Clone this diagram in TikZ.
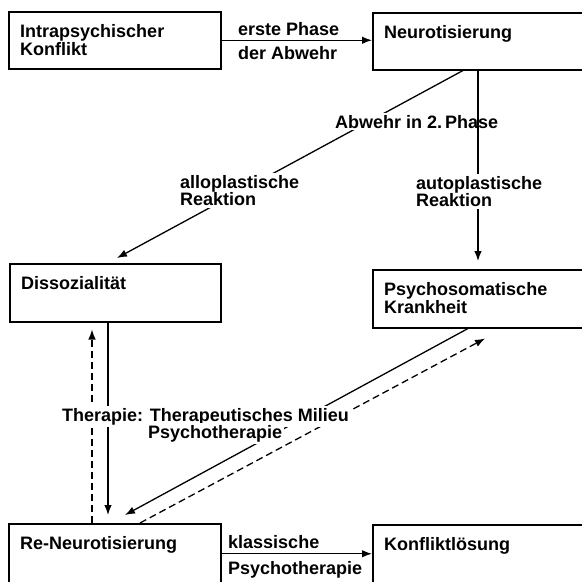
\documentclass[tikz,border=0pt]{standalone}
\usepackage{fontspec}
\setmainfont{Liberation Sans}
\usepackage{tikz}
\usetikzlibrary{arrows.meta,positioning,calc}

\begin{document}
\begin{tikzpicture}[x=1pt, y=-1pt, >={Latex[length=10pt,width=7.5pt]},
  every node/.style={font=\bfseries\fontsize{18}{17.5}\selectfont},
  box/.style={draw, line width=1.5pt, anchor=north west, inner sep=0pt},
  boxtext/.style={anchor=north west, inner sep=0pt, align=left},
  lbl/.style={anchor=north west, inner sep=2pt, fill=white, align=left},
  conn/.style={line width=1.3pt},
  back/.style={line width=1.3pt, dash pattern=on 7pt off 4pt}]
\useasboundingbox (0,0) rectangle (582,582);
\clip (0,0) rectangle (582,582);
\node[box, minimum width=212pt, minimum height=57pt] (konflikt) at (8,11) {};
\node[box, minimum width=230pt, minimum height=57pt] (neuro) at (372,12) {};
\node[box, minimum width=211pt, minimum height=58pt] (dissoz) at (9,263) {};
\node[box, minimum width=230pt, minimum height=58pt] (psycho) at (372,269) {};
\node[box, minimum width=212pt, minimum height=80pt] (reneuro) at (8,523) {};
\node[box, minimum width=230pt, minimum height=80pt] (loesung) at (372,524) {};
\node[boxtext] (konflikttxt) at ([xshift=12pt,yshift=-13.5pt]konflikt.north west) {Intrapsychischer\\Konflikt};
\node[boxtext] (neurotxt) at ([xshift=12pt,yshift=-13.5pt]neuro.north west) {Neurotisierung};
\node[boxtext] (dissoztxt) at ([xshift=12pt,yshift=-13.5pt]dissoz.north west) {Dissozialität};
\node[boxtext] (psychotxt) at ([xshift=12pt,yshift=-13.5pt]psycho.north west) {Psychosomatische\\Krankheit};
\node[boxtext] (reneurotxt) at ([xshift=12pt,yshift=-13.5pt]reneuro.north west) {Re-Neurotisierung};
\node[boxtext] (loesungtxt) at ([xshift=12pt,yshift=-13.5pt]loesung.north west) {Konfliktlösung};

\draw[conn,->] (konflikt.east) -- (konflikt.east -| neuro.west);
\node[lbl] (erste) at (236,20) {erste Phase};
\node[lbl] (abwehr) at (236,44) {der Abwehr};

\draw[conn,->] ([xshift=91pt]neuro.south west) -- ([xshift=108pt,yshift=5pt]dissoz.north west);
\node[lbl] (phase2) at (333,113) {Abwehr in 2.\,Phase};
\draw[conn,->] ([xshift=106pt]neuro.south west) -- ([xshift=106pt,yshift=8pt]psycho.north west);
\node[lbl] (allo) at (178,173) {alloplastische\\Reaktion};
\node[lbl] (auto) at (414,174) {autoplastische\\Reaktion};

\draw[conn,->] ([xshift=99pt]dissoz.south west) -- ([xshift=100pt,yshift=8pt]reneuro.north west);
\draw[back,->] ([xshift=84pt]reneuro.north west) -- ([xshift=83pt,yshift=-7pt]dissoz.south west);
\draw[conn,->] ([xshift=96pt]psycho.south west) -- ([xshift=117pt,yshift=8pt]reneuro.north west);
\draw[back,->] ([xshift=132pt]reneuro.north west) -- ([xshift=113pt,yshift=-10pt]psycho.south west);
\node[lbl] (therapie) at (60,406) {Therapie: Therapeutisches Milieu};
\node[lbl] (psychoth) at (146,423) {Psychotherapie};

\draw[conn,->] ([yshift=10pt]reneuro.east) -- ([yshift=11pt]loesung.west);
\node[lbl] (klassisch) at (226,533) {klassische};
\node[lbl] (klpsycho) at (226,559) {Psychotherapie};
\end{tikzpicture}
\end{document}
